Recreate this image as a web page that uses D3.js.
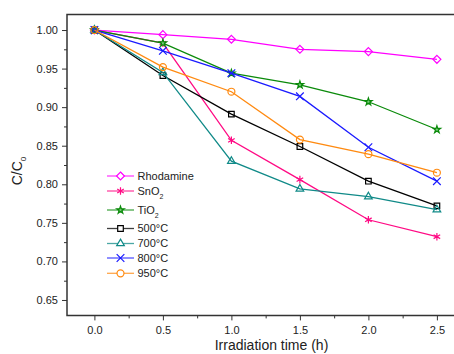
<!DOCTYPE html>
<html>
<head>
	<meta charset='utf-8'>
	<style>
		body { margin: 0; background: #fff; }
		svg { font-family: Arial, 'Liberation Sans', sans-serif; }
		.frame { stroke: #333; stroke-width: 1.5px; fill: none; }
		.axis path { display: none; }
		.axis line { stroke: #333; stroke-width: 1px; }
		.axis text { fill: #222; font-size: 11px; }
		.line { fill: none; stroke-width: 1.3px; }
		.legend text { font-size: 11px; fill: #222; }
	</style>
</head>
<body>
<script src='https://d3js.org/d3.v7.min.js'></script>
<script>
	'use strict';

	// время облучения, ч
	const times = [0, 0.5, 1.0, 1.5, 2.0, 2.5];

	const names = ['Rhodamine', 'SnO2', 'TiO2', '500°C', '700°C', '800°C', '950°C'];

	// C/C0 по образцам
	const rhodamine = [1.0, 0.994, 0.988, 0.975, 0.972, 0.962];
	const sno2 = [1.0, 0.983, 0.857, 0.806, 0.754, 0.732];
	const tio2 = [1.0, 0.983, 0.944, 0.929, 0.907, 0.871];
	const t500 = [1.0, 0.941, 0.891, 0.849, 0.804, 0.772];
	const t700 = [1.0, 0.945, 0.830, 0.794, 0.784, 0.767];
	const t800 = [1.0, 0.973, 0.944, 0.914, 0.848, 0.804];
	const t950 = [1.0, 0.952, 0.920, 0.858, 0.839, 0.815];

	const xTicks = [0, 0.5, 1.0, 1.5, 2.0, 2.5];
	const yTicks = [0.65, 0.70, 0.75, 0.80, 0.85, 0.90, 0.95, 1.00];

	const colors = ['#ff00ff', '#ff0a84', '#0a8a0a', '#000000', '#108a88', '#1a1aff', '#ff8a10'];
	const symbols = [d3.symbolDiamond2, d3.symbolAsterisk, d3.symbolStar, d3.symbolSquare2,
		d3.symbolTriangle2, d3.symbolTimes, d3.symbolCircle];
	const sizes = [40, 40, 17, 40, 42, 40, 38];

	const series = [rhodamine, sno2, tio2, t500, t700, t800, t950];

	const W = 454, H = 354;
	const x = d3.scaleLinear().domain([-0.2, 2.7]).range([67, 464.3]);
	const y = d3.scaleLinear().domain([0.63, 1.02]).range([315.4, 14.6]);

	const svg = d3.select('body').append('svg')
		.attr('width', W)
		.attr('height', H);

	// оси
	svg.append('g')
		.attr('class', 'axis')
		.attr('transform', 'translate(0,' + y(0.63) + ')')
		.call(d3.axisBottom(x).tickValues(xTicks).tickSize(5).tickPadding(6)
			.tickFormat(d3.format('.1f')));
	svg.append('g')
		.attr('class', 'axis')
		.attr('transform', 'translate(0,' + y(0.63) + ')')
		.call(d3.axisBottom(x).tickValues(xTicks.map(function(d) {return d + 0.25;}).filter(function(d) {return d < 2.7;}))
			.tickSize(3).tickFormat(''));

	svg.append('g')
		.attr('class', 'axis')
		.attr('transform', 'translate(' + x(-0.2) + ',0)')
		.call(d3.axisLeft(y).tickValues(yTicks).tickSize(5).tickPadding(4)
			.tickFormat(d3.format('.2f')));
	svg.append('g')
		.attr('class', 'axis')
		.attr('transform', 'translate(' + x(-0.2) + ',0)')
		.call(d3.axisLeft(y).tickValues(yTicks.map(function(d) {return d + 0.025;}).filter(function(d) {return d < 1.02;}))
			.tickSize(3).tickFormat(''));

	// рамка: левая, верхняя, нижняя
	svg.append('path')
		.attr('class', 'frame')
		.attr('d', 'M' + W + ',' + y(1.02) + 'H' + x(-0.2) + 'V' + y(0.63) + 'H' + W);

	// подписи осей
	svg.append('text')
		.attr('x', 271.5)
		.attr('y', 350)
		.attr('text-anchor', 'middle')
		.style('font-size', '14px')
		.attr('fill', '#222')
		.text('Irradiation time (h)');

	const yl = svg.append('text')
		.attr('transform', 'translate(22,171) rotate(-90)')
		.attr('text-anchor', 'middle')
		.style('font-size', '14px')
		.attr('fill', '#222');
	yl.append('tspan').text('C/C');
	yl.append('tspan').attr('dy', 4).style('font-size', '8px').text('0');

	const line = d3.line()
		.x(function(d, i) {return x(times[i]);})
		.y(function(d) {return y(d);});

	series.forEach(function(vals, k) {
		const g = svg.append('g');
		g.append('path')
			.attr('class', 'line')
			.attr('stroke', colors[k])
			.attr('d', line(vals));
		g.selectAll('path.pt')
			.data(vals)
			.enter()
			.append('path')
			.attr('class', 'pt')
			.attr('transform', function(d, i) {return 'translate(' + x(times[i]) + ',' + y(d) + ')';})
			.attr('d', d3.symbol().type(symbols[k]).size(sizes[k]))
			.attr('fill', k === 2 ? '#7fcf7f' : 'none')
			.attr('stroke', colors[k])
			.attr('stroke-width', 1.2);
	});

	// легенда
	const legendY = [176, 191, 210, 228.5, 243.5, 258, 273.3];
	const legend = svg.append('g').attr('class', 'legend');
	names.forEach(function(name, k) {
		const row = legend.append('g').attr('transform', 'translate(0,' + legendY[k] + ')');
		row.append('line')
			.attr('x1', 107).attr('x2', 134)
			.attr('stroke', colors[k])
			.attr('stroke-width', 1.3)
			.attr('opacity', 0.75);
		row.append('path')
			.attr('transform', 'translate(120.5,0)')
			.attr('d', d3.symbol().type(symbols[k]).size(sizes[k]))
			.attr('fill', k === 2 ? '#7fcf7f' : '#fff')
			.attr('stroke', colors[k])
			.attr('stroke-width', 1.2);
		const t = row.append('text')
			.attr('x', 137.5)
			.attr('dy', '0.35em');
		if (name === 'SnO2' || name === 'TiO2') {
			t.append('tspan').text(name.slice(0, 3));
			t.append('tspan').attr('dy', 4).style('font-size', '7px').text('2');
		} else {
			t.text(name);
		}
	});
</script>
</body>
</html>
